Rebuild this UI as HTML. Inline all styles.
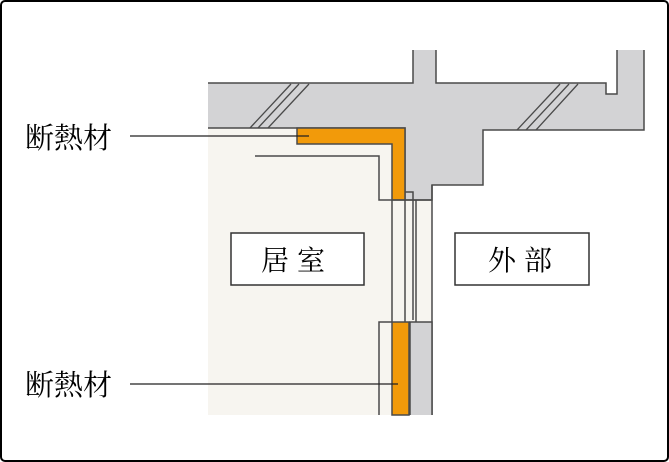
<!DOCTYPE html>
<html><head><meta charset="utf-8"><style>
html,body{margin:0;padding:0;background:#fff;}
svg{display:block;}
text{font-family:"Liberation Serif","Noto Serif CJK SC",serif;}
</style></head><body>
<svg width="669" height="462" viewBox="0 0 669 462" xmlns="http://www.w3.org/2000/svg">
<rect x="1" y="1" width="667" height="460" rx="4" fill="#fff" stroke="#000" stroke-width="2"/>
<rect x="208" y="128" width="184" height="287" fill="#f7f5f0"/>
<rect x="392" y="200" width="40" height="122" fill="#f7f5f0"/>
<path d="M208 83 H413 V50 H436 V83 H606 V94 H617 V50 H644 V130 H483 V185 H432 V200 H405 V128 H208 Z" fill="#d3d3d5"/>
<path d="M208 83 H413 V50 M436 50 V83 H606 V94 H617 V50 M644 50 V130 H483 V185 H432 V200 H405 V128 H208" fill="none" stroke="#4a4a4a" stroke-width="1.5"/>
<g stroke="#4a4a4a" stroke-width="1.3">
<line x1="250" y1="128" x2="291" y2="84"/><line x1="258" y1="128" x2="299" y2="84"/><line x1="268" y1="128" x2="309" y2="84"/>
<line x1="517" y1="130" x2="560" y2="84"/><line x1="526" y1="130" x2="569" y2="84"/><line x1="536" y1="130" x2="578" y2="84"/>
</g>
<path d="M297 128 H405 V200 H392 V144 H297 Z" fill="#f29a0a" stroke="#4a4a4a" stroke-width="1.5"/>
<path d="M255 156 H379 V200 H432" fill="none" stroke="#4a4a4a" stroke-width="1.5"/>
<g stroke="#4a4a4a" stroke-width="1.5" fill="none">
<line x1="392" y1="200" x2="392" y2="322"/>
<line x1="405" y1="200" x2="405" y2="322"/>
<path d="M405 192 H413 V320"/>
<line x1="416" y1="200" x2="416" y2="322"/>
<line x1="432" y1="185" x2="432" y2="415"/>
<path d="M379 415 V322 H392"/>
</g>
<rect x="392" y="322" width="17" height="93" fill="#f29a0a" stroke="#4a4a4a" stroke-width="1.5"/>
<path d="M410 415 V322 H432 V415" fill="#d3d3d5" stroke="#4a4a4a" stroke-width="1.5"/>
<rect x="231" y="233" width="133" height="52" fill="#fff" stroke="#333" stroke-width="1.5"/>
<text x="297" y="270" font-size="28" text-anchor="middle" letter-spacing="8">居室</text>
<rect x="455" y="233" width="134" height="52" fill="#fff" stroke="#333" stroke-width="1.5"/>
<text x="524" y="270" font-size="28" text-anchor="middle" letter-spacing="8">外部</text>
<text x="25" y="148" font-size="29">断熱材</text>
<text x="25" y="395" font-size="29">断熱材</text>
<line x1="130" y1="136" x2="309" y2="136" stroke="#222" stroke-width="1.3"/>
<line x1="130" y1="384" x2="398" y2="384" stroke="#222" stroke-width="1.3"/>
</svg>
</body></html>
